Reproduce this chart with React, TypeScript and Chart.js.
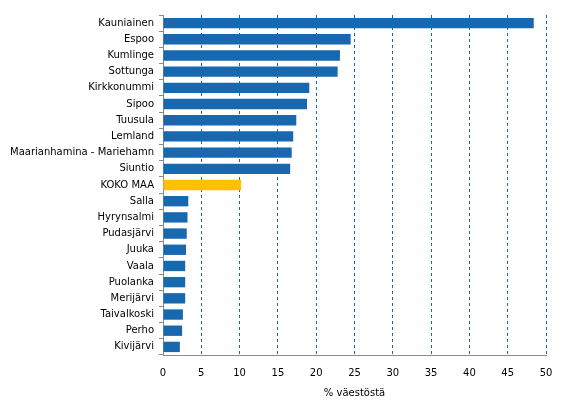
import React, { useEffect, useRef } from "react";
import { Chart, registerables } from "chart.js";

Chart.register(...registerables);

const categories = [
  "Kauniainen", "Espoo", "Kumlinge", "Sottunga", "Kirkkonummi", "Sipoo", "Tuusula",
  "Lemland", "Maarianhamina - Mariehamn", "Siuntio", "KOKO MAA", "Salla", "Hyrynsalmi",
  "Pudasjärvi", "Juuka", "Vaala", "Puolanka", "Merijärvi", "Taivalkoski", "Perho", "Kivijärvi",
];
const values = [
  48.4, 24.5, 23.1, 22.8, 19.1, 18.8, 17.4, 17.0, 16.8, 16.6, 10.2, 3.3, 3.2, 3.1, 3.0,
  2.9, 2.9, 2.9, 2.6, 2.5, 2.2,
];
const highlight = "KOKO MAA";
const xTicks = [0, 5, 10, 15, 20, 25, 30, 35, 40, 45, 50];
const xTitle = "% väestöstä";

export default function App() {
  const ref = useRef<HTMLCanvasElement | null>(null);
  useEffect(() => {
    document.body.style.margin = "0";
    const canvas = ref.current!;
    const font = { family: "DejaVu Sans", size: 10 };
    const chart = new Chart(canvas, {
      type: "bar",
      data: {
        labels: categories,
        datasets: [
          {
            data: values,
            backgroundColor: categories.map((c) => (c === highlight ? "#FFC000" : "#1868B0")),
            barPercentage: 0.64,
            categoryPercentage: 1,
          },
        ],
      },
      options: {
        indexAxis: "y",
        animation: false,
        responsive: false,
        layout: { padding: { top: 15, right: 23, left: 0, bottom: 0 } },
        plugins: { legend: { display: false }, tooltip: { enabled: false } },
        scales: {
          x: {
            min: 0,
            max: 50,
            afterBuildTicks: (axis: any) => {
              axis.ticks = xTicks.map((v) => ({ value: v }));
            },
            afterFit: (axis: any) => {
              axis.height = 63;
            },
            grid: {
              color: (ctx: any) => (ctx.tick && ctx.tick.value === 0 ? "rgba(0,0,0,0)" : "#1868B0"),
              lineWidth: 1,
              drawTicks: false,
            },
            border: { display: true, color: "#8a8a8a", dash: [3, 3], width: 1 },
            ticks: { color: "#000", font, padding: 12, maxRotation: 0 },
            title: { display: true, text: xTitle, color: "#000", font, padding: { top: 6, bottom: 19 } },
          },
          y: {
            afterFit: (axis: any) => {
              axis.width = 163;
            },
            grid: {
              display: true,
              drawOnChartArea: false,
              drawTicks: true,
              tickLength: 4,
              color: "#8a8a8a",
              offset: true,
            },
            border: { display: true, color: "#8a8a8a", width: 1 },
            ticks: { color: "#000", font, padding: 5, autoSkip: false },
          },
        },
      },
    });
    return () => chart.destroy();
  }, []);
  return <canvas ref={ref} width={569} height={418} style={{ display: "block" }} />;
}
